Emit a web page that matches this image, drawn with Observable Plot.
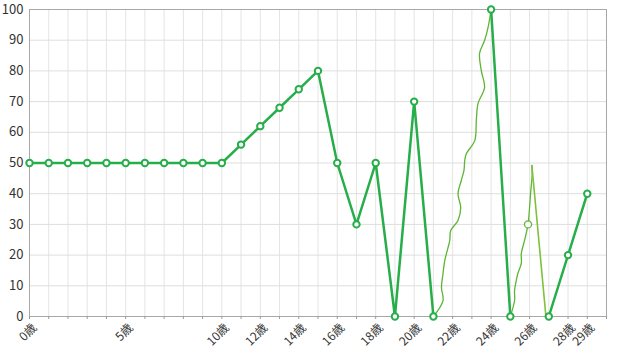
<!DOCTYPE html>
<html><head><meta charset="utf-8">
<script src="https://cdn.jsdelivr.net/npm/d3@7"></script>
<script src="https://cdn.jsdelivr.net/npm/@observablehq/plot@0.6"></script>
<style>body{margin:0;background:#fff}</style>
</head><body><div id="chart"></div>
<script>
const ages = d3.range(0, 30);
const values = [50,50,50,50,50,50,50,50,50,50,50,56,62,68,74,80,50,30,50,0,70,0,null,null,100,0,null,0,20,40];
const xTickLabels = [0,5,10,12,14,16,18,20,22,24,26,28,29];
const yTicks = [0,10,20,30,40,50,60,70,80,90,100];
// hand-drawn wavy strokes
const wave1X = [21,21.5,21.42,21.5,21.59,21.85,21.9,22.28,22.42,22.28,22.45,22.59,22.63,22.71,23.15,23.23,23.32,23.66,23.49,23.4,23.66,23.84,24];
const wave1Y = [0,5.2,9.4,14,18.2,24.8,28,31.3,35.5,40,44.3,47.6,50.8,53,57.3,63.8,69.4,74.6,80.1,85.7,89.9,94.1,100];
const wave2X = [25,25.22,25.22,25.31,25.39,25.57,25.57,25.74,25.92,26.0,26.05,26.13,26.12];
const wave2Y = [0,5.2,8.5,11.7,14,17.3,20.5,24.8,30,35.5,40,45.9,49.2];
const dropX = [26.12, 26.85];
const dropY = [49.2, 0];
const hollowX = [25.92];
const hollowY = [30];

const main = ages.map((a,i)=>({x:a, y: values[i] == null ? NaN : values[i]}));
const pts = main.filter(d=>!isNaN(d.y));
const w1 = wave1X.map((x,i)=>({x, y:wave1Y[i]}));
const w2 = wave2X.map((x,i)=>({x, y:wave2Y[i]}));
const dr = dropX.map((x,i)=>({x, y:dropY[i]}));
const ho = hollowX.map((x,i)=>({x, y:hollowY[i]}));

const green = "#27ae4a";
const light = "#5db534";
const font = "'Noto Sans CJK JP', 'Noto Sans', sans-serif";

const chart = Plot.plot({
  width: 620, height: 349,
  marginLeft: 29, marginRight: 14, marginTop: 9, marginBottom: 33,
  style: {fontFamily: font, background: "#fff", overflow: "visible"},
  x: {domain: [0, 30]},
  y: {domain: [0, 100]},
  marks: [
    Plot.gridX(d3.range(0, 31), {stroke: "#e4e4e4", strokeOpacity: 1}),
    Plot.gridY(yTicks, {stroke: "#dedede", strokeOpacity: 1}),
    Plot.frame({stroke: "#a8a8a8"}),
    Plot.axisX(d3.range(0, 31), {tickSize: 3, stroke: "#999", tickFormat: () => "", label: null}),
    Plot.text(xTickLabels, {x: d => d, frameAnchor: "bottom", text: d => d + "歳", rotate: -45,
      textAnchor: "end", lineAnchor: "top", fontSize: 12, fill: "#333", dx: 2, dy: 6}),
    Plot.axisY(yTicks, {tickSize: 0, tickPadding: 6, fontSize: 13, fill: "#333", label: null}),
    Plot.line(w1, {x: "x", y: "y", stroke: light, strokeWidth: 1.3, curve: "catmull-rom"}),
    Plot.line(w2, {x: "x", y: "y", stroke: light, strokeWidth: 1.3, curve: "catmull-rom"}),
    Plot.line(dr, {x: "x", y: "y", stroke: "#7dc23a", strokeWidth: 1.6}),
    Plot.line(main, {x: "x", y: "y", stroke: green, strokeWidth: 2.5}),
    Plot.dot(pts, {x: "x", y: "y", r: 3.2, stroke: green, strokeWidth: 2, fill: "#fff"}),
    Plot.dot(ho, {x: "x", y: "y", r: 3.5, stroke: light, strokeWidth: 1.3, fill: "#fff"})
  ]
});
document.getElementById("chart").appendChild(chart);
</script></body></html>
